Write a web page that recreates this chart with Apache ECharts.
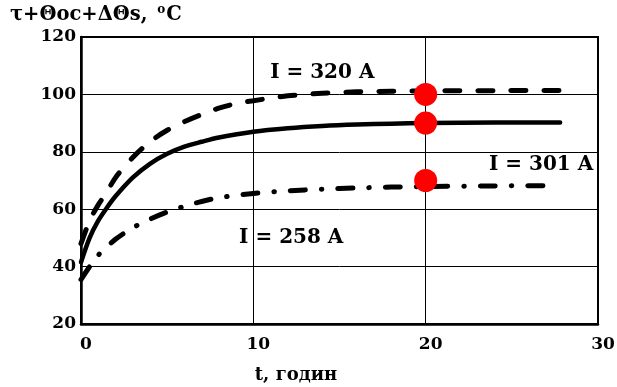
<!DOCTYPE html>
<html>
<head>
<meta charset="utf-8">
<script src="https://cdn.jsdelivr.net/npm/echarts@6/dist/echarts.min.js"></script>
<style>
  html, body { margin: 0; padding: 0; background: #fff; }
  #chart { width: 617px; height: 387px; }
</style>
</head>
<body>
<div id="chart"></div>
<script>
// time, hours
const tHigh = [0, 0.5, 1, 1.5, 2, 3, 4, 5, 6, 7, 8, 9, 10, 12, 14, 16, 18, 20, 24, 27.8];
const tempHigh = [48, 56, 61.5, 66, 71, 78, 83.5, 87.5, 90.5, 93, 95.2, 96.8, 97.8, 99.5, 100.4, 100.9, 101.1, 101.2, 101.3, 101.4]; // I = 320 A

const tMid = [0, 0.5, 1, 1.5, 2, 3, 4, 5, 6, 7, 8, 10, 12, 14, 16, 18, 20, 24, 27.8];
const tempMid = [41.5, 50, 56, 60.5, 64.5, 71, 75.8, 79.3, 81.8, 83.5, 85, 87, 88.2, 89, 89.5, 89.8, 90, 90.2, 90.2]; // I = 301 A

const tLow = [0, 0.5, 1, 2, 3, 4, 5, 6, 7, 8, 10, 12, 14, 16, 18, 20, 24, 27.1];
const tempLow = [35.5, 40, 44, 49.5, 53.5, 56.5, 59, 61, 62.7, 64, 65.5, 66.4, 67, 67.4, 67.7, 67.9, 68.1, 68.2]; // I = 258 A

// measured points at t = 20 h
const markT = [20, 20, 20];
const markTemp = [100, 90, 70];

const labelNames = ['I = 320 A', 'I = 301 A', 'I = 258 A'];
const labelT = [14.0, 26.7, 12.2];
const labelTemp = [107.6, 75.4, 50.1];

const xTicks = [0, 10, 20, 30];
const yTicks = [20, 40, 60, 80, 100, 120];

const zip = (xs, ys) => xs.map((x, i) => [x, ys[i]]);

const chart = echarts.init(document.getElementById('chart'));
const font = 'DejaVu Serif';

chart.setOption({
  animation: false,
  grid: {
    left: 81, right: 19, top: 37, bottom: 63,
    outerBoundsMode: 'none',
    show: true, borderColor: '#000', borderWidth: 2
  },
  xAxis: {
    type: 'value',
    min: xTicks[0], max: xTicks[xTicks.length - 1], interval: 10,
    name: 't, годин',
    nameLocation: 'middle',
    nameGap: 42,
    nameTextStyle: { fontFamily: font, fontWeight: 'bold', fontSize: 18, color: '#000', padding: [0, 87, 0, 0] },
    axisLine: { onZero: false, lineStyle: { color: '#000', width: 2.5 } },
    axisTick: { show: false },
    axisLabel: { margin: 12, padding: [0, 0, 0, 10], fontFamily: font, fontWeight: 'bold', fontSize: 17, color: '#000' },
    splitLine: { lineStyle: { color: '#000', width: 1 } }
  },
  yAxis: {
    type: 'value',
    min: yTicks[0], max: yTicks[yTicks.length - 1], interval: 20,
    name: 'τ+Θoc+ΔΘs, {sup|o}C',
    nameLocation: 'end',
    nameGap: 12,
    nameTextStyle: {
      fontFamily: font, fontWeight: 'bold', fontSize: 19.5, color: '#000',
      align: 'left', padding: [0, 0, 0, -71],
      rich: { sup: { fontFamily: font, fontWeight: 'bold', fontSize: 12, verticalAlign: 'top', padding: [0, 1, 9, 3] } }
    },
    axisLine: { onZero: false, lineStyle: { color: '#000', width: 2.5 } },
    axisTick: { show: false },
    axisLabel: { margin: 5, fontFamily: font, fontWeight: 'bold', fontSize: 17, color: '#000' },
    splitLine: { lineStyle: { color: '#000', width: 1 } }
  },
  series: [
    {
      type: 'line', data: zip(tHigh, tempHigh), smooth: 0.3, symbol: 'none',
      lineStyle: { color: '#000', width: 5, type: [15, 18], cap: 'round' }
    },
    {
      type: 'line', data: zip(tMid, tempMid), smooth: 0.3, symbol: 'none',
      lineStyle: { color: '#000', width: 4.5, cap: 'round' }
    },
    {
      type: 'line', data: zip(tLow, tempLow), smooth: 0.3, symbol: 'none',
      lineStyle: { color: '#000', width: 5, type: [15, 16, 0.5, 16], cap: 'round' }
    },
    {
      type: 'scatter', data: zip(markT, markTemp), symbolSize: 23,
      itemStyle: { color: '#ff0000', opacity: 1 }, z: 5
    },
    {
      type: 'scatter', symbolSize: 0,
      itemStyle: { opacity: 1 },
      data: labelNames.map((n, i) => ({ name: n, value: [labelT[i], labelTemp[i]] })),
      label: {
        show: true, position: 'inside', formatter: '{b}',
        fontFamily: font, fontWeight: 'bold', fontSize: 20, color: '#000', textBorderWidth: 0
      },
      silent: true
    }
  ]
});
</script>
</body>
</html>
